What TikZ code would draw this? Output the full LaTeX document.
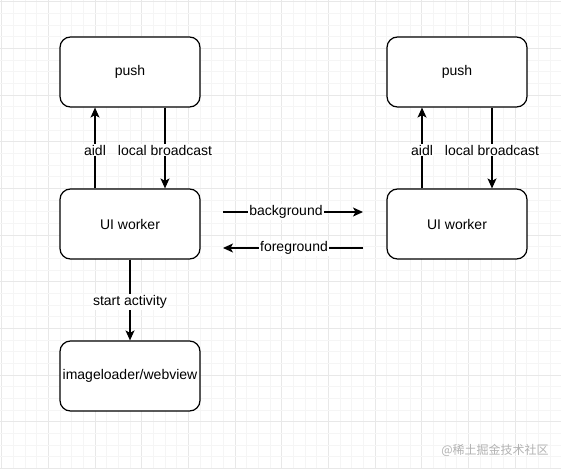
\documentclass[tikz,border=0pt]{standalone}
\usepackage{fontspec}
\setmainfont{Liberation Sans}
\newfontfamily\cjk{Noto Sans CJK SC}
\usetikzlibrary{arrows.meta}
\begin{document}
\begin{tikzpicture}[x=1pt,y=-1pt,
  box/.style={draw=black,line width=1.2pt,rounded corners=10.5pt,fill=white,
    minimum width=140pt,minimum height=70pt,inner sep=0pt,
    font=\fontsize{14}{16}\selectfont},
  conn/.style={line width=1.2pt,-{Stealth[length=10pt,width=9pt,inset=2.5pt]}},
  lbl/.style={fill=white,inner sep=1pt,font=\fontsize{14}{16}\selectfont},
  minor/.style={draw=black!4,line width=0.8pt},
  major/.style={draw=black!9,line width=0.8pt}]
\useasboundingbox (0,0) rectangle (561,468);
\fill[white] (0,0) rectangle (561,468);
% grid
\foreach \k in {0,...,48} {
  \pgfmathsetmacro{\xx}{1.67+11.667*\k}
  \pgfmathtruncatemacro{\m}{mod(\k,4)}
  \ifnum\m=0 \draw[major] (\xx,0) -- (\xx,468); \else \draw[minor] (\xx,0) -- (\xx,468); \fi
}
\foreach \k in {0,...,40} {
  \pgfmathsetmacro{\yy}{1.67+11.667*\k}
  \pgfmathtruncatemacro{\m}{mod(\k,4)}
  \ifnum\m=0 \draw[major] (0,\yy) -- (561,\yy); \else \draw[minor] (0,\yy) -- (561,\yy); \fi
}
% boxes
\node[box] (pushL) at (130,72) {push};
\node[box] (uiL) at (130,224) {UI worker};
\node[box] (img) at (130,376) {imageloader/webview};
\node[box] (pushR) at (457,72) {push};
\node[box] (uiR) at (457,224) {UI worker};
% left arrows
\draw[conn] (uiL.north -| 95,0) -- (pushL.south -| 95,0);
\draw[conn] (pushL.south -| 165,0) -- (uiL.north -| 165,0);
\node[lbl] (aidlL) at (95,150) {aidl};
\node[lbl] (lbL) at (165,150) {local broadcast};
% right arrows
\draw[conn] (uiR.north -| 422,0) -- (pushR.south -| 422,0);
\draw[conn] (pushR.south -| 492,0) -- (uiR.north -| 492,0);
\node[lbl] (aidlR) at (422,150) {aidl};
\node[lbl] (lbR) at (492,150) {local broadcast};
% background / foreground
\coordinate (bgS) at (223,212);
\coordinate (bgE) at (363,212);
\coordinate (fgS) at (363,248);
\coordinate (fgE) at (223,248);
\draw[conn] (bgS) -- (bgE);
\draw[conn] (fgS) -- (fgE);
\node[lbl] (bgL) at (286,212) {background};
\node[lbl] (fgL) at (294,248) {foreground};
% start activity
\draw[conn] (uiL.south) -- (img.north);
\node[lbl] (saL) at (130,302) {start activity};
% watermark
\node[text=black!30,font=\cjk\fontsize{12}{14}\selectfont] (wm) at (495,450) {@稀土掘金技术社区};
\end{tikzpicture}
\end{document}
